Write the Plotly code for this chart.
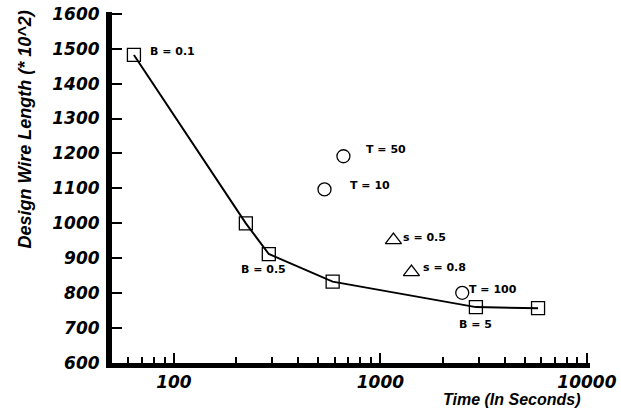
import plotly.graph_objects as go
import math

# Data
b_time = [64, 223, 288, 587, 2900, 5800]
b_len = [1482, 1000, 912, 833, 760, 757]

t_time = [662, 536, 2490]
t_len = [1192, 1097, 801]

s_time = [1156, 1413]
s_len = [952, 860]

y_ticks = [600, 700, 800, 900, 1000, 1100, 1200, 1300, 1400, 1500, 1600]
x_ticks = [100, 1000, 10000]
x_minor = [60, 70, 80, 90, 200, 300, 400, 500, 600, 700, 800, 900,
           2000, 3000, 4000, 5000, 6000, 7000, 8000, 9000]

# labels: (text, x, y, xanchor, xshift, yshift)
labels = [
    ("B = 0.1", b_time[0], b_len[0], "left", 14, 3),
    ("B = 0.5", b_time[2], b_len[2], "center", -5, -15),
    ("B = 5", b_time[4], b_len[4], "center", 0, -17),
    ("T = 50", t_time[0], t_len[0], "left", 21, 7),
    ("T = 10", t_time[1], t_len[1], "left", 23, 4),
    ("T = 100", t_time[2], t_len[2], "left", 5, 3),
    ("s = 0.5", s_time[0], s_len[0], "left", 8, 3),
    ("s = 0.8", s_time[1], s_len[1], "left", 10, 5),
]

tickfont = dict(family="DejaVu Sans", size=17, color="black", weight="bold", style="italic")
labfont = dict(family="DejaVu Sans", size=11, color="black", weight="bold")

fig = go.Figure()
fig.add_trace(go.Scatter(
    x=b_time, y=b_len, mode="lines+markers",
    line=dict(color="black", width=2),
    marker=dict(symbol="square-open", size=13, color="black", line=dict(width=1.3)),
    showlegend=False, cliponaxis=False))
fig.add_trace(go.Scatter(
    x=t_time, y=t_len, mode="markers",
    marker=dict(symbol="circle-open", size=13, color="black", line=dict(width=1.3)),
    showlegend=False, cliponaxis=False))
fig.add_trace(go.Scatter(
    x=s_time, y=s_len, mode="markers",
    marker=dict(symbol="triangle-up-open", size=14, color="black", line=dict(width=1.3)),
    showlegend=False, cliponaxis=False))

for text, x, y, xa, xs, ys in labels:
    fig.add_annotation(x=math.log10(x), y=y, xref="x", yref="y", text=text,
                       showarrow=False, xanchor=xa, yanchor="middle",
                       xshift=xs, yshift=ys, font=labfont)

fig.add_annotation(x=0.985, y=-0.103, xref="paper", yref="paper",
                   text="Time (In Seconds)", showarrow=False,
                   xanchor="right", yanchor="middle",
                   font=dict(family="Liberation Sans", size=16, color="black",
                             weight="bold", style="italic"))
fig.add_annotation(x=-0.182, y=0.665, xref="paper", yref="paper",
                   text="Design Wire Length (* 10^2)", showarrow=False,
                   textangle=-90, xanchor="center", yanchor="middle",
                   font=dict(family="Liberation Sans", size=18, color="black",
                             weight="bold", style="italic"))

fig.update_layout(
    width=621, height=415,
    margin=dict(l=112, r=31, t=12, b=52),
    paper_bgcolor="white", plot_bgcolor="white",
    xaxis=dict(type="log", range=[1.70, 4.015],
               tickvals=x_ticks, ticktext=[str(v) for v in x_ticks],
               ticks="inside", ticklen=10, tickwidth=2, tickcolor="black",
               minor=dict(tickvals=x_minor, ticks="inside", ticklen=6,
                          tickwidth=1.5, tickcolor="black", showgrid=False),
               showline=True, linewidth=5, linecolor="black",
               showgrid=False, zeroline=False, tickfont=tickfont,
               automargin=False),
    yaxis=dict(range=[600, 1605], tickvals=y_ticks,
               ticks="inside", ticklen=10, tickwidth=2, tickcolor="black",
               showline=True, linewidth=6, linecolor="black",
               showgrid=False, zeroline=False, tickfont=tickfont,
               ticklabelstandoff=3, automargin=False),
)

fig.write_html("out.html")
